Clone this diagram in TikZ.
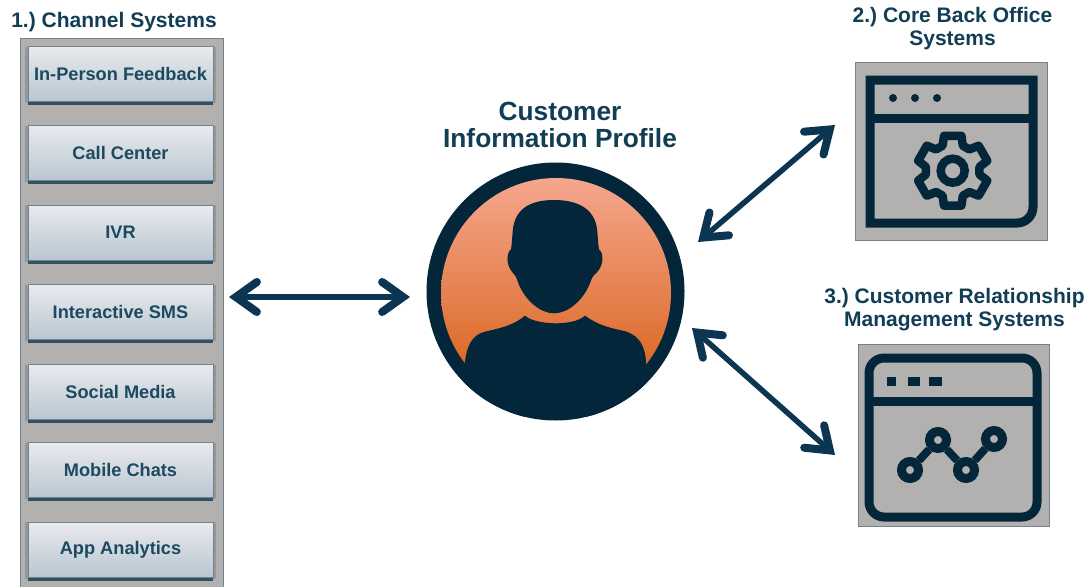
\documentclass[tikz,border=0pt]{standalone}
\usepackage{fontspec}
\setmainfont{Liberation Sans}
\frenchspacing
\usetikzlibrary{arrows.meta,shadows}
\definecolor{navy}{HTML}{04263A}
\definecolor{arrowc}{HTML}{0B3550}
\definecolor{titlec}{HTML}{123E55}
\definecolor{btntext}{HTML}{1C4A5F}
\definecolor{panelgray}{HTML}{B2B1B0}
\definecolor{panelline}{HTML}{6F8490}
\definecolor{btntop}{HTML}{E9EAEE}
\definecolor{btnbot}{HTML}{B9C6D1}
\definecolor{shadowc}{HTML}{34505F}
\definecolor{shadowsoft}{HTML}{94989A}
\definecolor{facetop}{HTML}{F5A78F}
\definecolor{facebot}{HTML}{DC6A27}
\tikzset{
  btn/.style={rectangle,draw=panelline,line width=.6pt,minimum width=185pt,minimum height=55pt,
    top color=btntop,bottom color=btnbot,text=btntext,font=\fontsize{18.2}{20}\selectfont\bfseries,inner sep=0pt,
    general shadow={shadow xshift=0pt,shadow yshift=-1pt,shadow scale=1.03,fill=shadowsoft,opacity=1},
    drop shadow={shadow xshift=0pt,shadow yshift=-3.5pt,fill=shadowc,opacity=1}},
  heading/.style={text=titlec,font=\fontsize{21}{23}\selectfont\bfseries,align=center,inner sep=0pt},
  bigheading/.style={text=titlec,font=\fontsize{26.3}{27}\selectfont\bfseries,align=center,inner sep=0pt},
  iconbox/.style={rectangle,draw=panelline,line width=.8pt,fill=panelgray,inner sep=0pt},
  icon/.style={draw=navy,line width=9pt},
  dotring/.style={circle,draw=navy,line width=9pt,minimum size=17pt,inner sep=0pt},
  link/.style={draw=arrowc,line width=5.5pt,
    {Straight Barb[length=21pt,width=30pt,line width=8pt,line cap=round]}-{Straight Barb[length=21pt,width=30pt,line width=8pt,line cap=round]}}
}
\begin{document}
\begin{tikzpicture}[x=1pt,y=-1pt]
\clip (0,0) rectangle (1091,586);
\fill[white] (0,0) rectangle (1091,586);
% left panel
\node[heading] (t1) at (114,22) {1.) Channel Systems};
\node[rectangle,draw=panelline,line width=1pt,fill=panelgray,minimum width=203pt,minimum height=570pt,anchor=north west,inner sep=0pt] (panel) at (20,38) {};
\node[btn] (b1) at (120.5,74) {In-Person Feedback};
\node[btn] (b2) at (120.5,153) {Call Center};
\node[btn] (b3) at (120.5,232.5) {IVR};
\node[btn] (b4) at (120.5,312) {Interactive SMS};
\node[btn] (b5) at (120.5,392) {Social Media};
\node[btn] (b6) at (120.5,470) {Mobile Chats};
\node[btn] (b7) at (120.5,549.5) {App Analytics};
% profile
\node[bigheading] (t0) at (560,124.5) {Customer\\Information Profile};
\node[circle,fill=navy,minimum size=258pt,inner sep=0pt] (profile) at (555.5,291.5) {};
\begin{scope}
  \clip (556,293) circle (115);
  \shade[top color=facetop,bottom color=facebot] (430,178) rectangle (680,365);
\end{scope}
\begin{scope}
\clip (555.5,291.5) circle (129);
\begin{scope}[shift={(410,150)},x=.33333pt,y=-.33333pt]
  \fill[navy] (432,150) .. controls (350,150) and (312,185) .. (308,245)
    .. controls (306,270) and (305,285) .. (303,298)
    .. controls (288,310) and (288,345) .. (308,368)
    .. controls (318,378) and (320,385) .. (325,400)
    .. controls (345,450) and (390,490) .. (432,490)
    .. controls (475,490) and (520,450) .. (540,400)
    .. controls (545,385) and (548,378) .. (560,368)
    .. controls (582,345) and (582,310) .. (567,298)
    .. controls (565,285) and (564,270) .. (562,245)
    .. controls (558,185) and (515,150) .. (432,150) -- cycle;
  \fill[navy] (345,497) .. controls (375,525) and (490,530) .. (525,497)
    .. controls (570,530) and (610,535) .. (650,545)
    .. controls (690,560) and (705,590) .. (708,635)
    -- (720,800) -- (150,800) -- (165,635)
    .. controls (170,590) and (185,555) .. (225,545)
    .. controls (265,535) and (305,530) .. (345,497) -- cycle;
\end{scope}
\end{scope}
% window 1
\node[heading] (t2) at (952.5,28.5) {2.) Core Back Office\\Systems};
\node[iconbox,minimum width=192pt,minimum height=178pt] (w1) at (951,151) {};
\draw[icon,line join=miter] (870,80) -- (1033,80) -- (1033,207) arc[start angle=0,end angle=90,radius=16] -- (870,223) -- cycle;
\draw[icon] (870,118) -- (1033,118);
\foreach \x in {893,915,937} \fill[navy] (\x,98) circle (4);
\begin{scope}[shift={(952.7,170.7)}]
  \draw[draw=navy,line width=8.5pt,line join=round] (76:36)
    \foreach \a in {90,150,210,270,330,30} {
      -- (\a+14:36) -- (\a+22:27) -- (\a+38:27) -- (\a+46:36)
    } -- cycle;
  \draw[draw=navy,line width=8.5pt] (0,0) circle (12);
\end{scope}
% window 2
\node[heading] (t3) at (954.5,309.5) {3.) Customer Relationship\\Management Systems};
\node[iconbox,minimum width=191pt,minimum height=182pt] (w2) at (953.5,435) {};
\draw[icon,rounded corners=15pt] (869,358) rectangle (1037,517);
\draw[icon] (869,401) -- (1037,401);
\foreach \x/\w in {887/9,908/12,929/13} \fill[navy] (\x,377) rectangle ++(\w,9);
\node[dotring] (p1) at (910,470) {};
\node[dotring] (p2) at (938,440) {};
\node[dotring] (p3) at (966,470) {};
\node[dotring] (p4) at (994,439) {};
\draw[navy,line width=8pt] (p1) -- (p2) (p2) -- (p3) (p3) -- (p4);
% connectors
\coordinate (la) at (229,297);
\coordinate (lb) at (410,297);
\coordinate (ra) at (698,242);
\coordinate (rb) at (835,125);
\coordinate (sa) at (692,328);
\coordinate (sb) at (835,455);
\draw[link] (la) -- (lb);
\draw[link] (ra) -- (rb);
\draw[link] (sa) -- (sb);
\end{tikzpicture}
\end{document}
